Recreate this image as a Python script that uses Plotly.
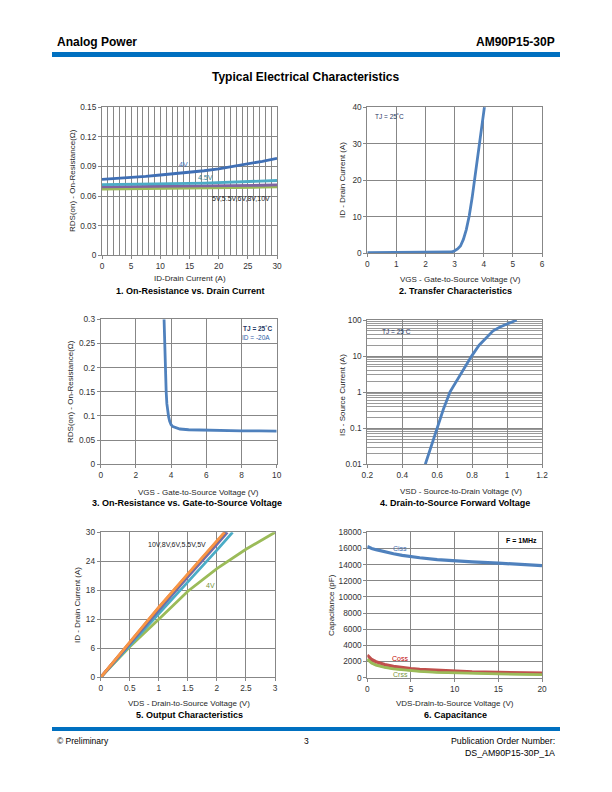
import plotly.graph_objects as go

# ---------------- DATA ----------------
# 1. On-Resistance vs Drain Current
id1 = [0, 2.5, 5, 7.5, 10, 12.5, 15, 17.5, 20, 22.5, 25, 27.5, 30]
rds1_4v = [0.0770, 0.0778, 0.0787, 0.0800, 0.0814, 0.0827, 0.0841, 0.0857, 0.0875, 0.0899, 0.0926, 0.0953, 0.0983]
rds1_45v = [0.0716, 0.0717, 0.0719, 0.0721, 0.0723, 0.0726, 0.0729, 0.0732, 0.0736, 0.0741, 0.0746, 0.0752, 0.0758]
rds1_5v = [0.0693, 0.0694, 0.0695, 0.0696, 0.0697, 0.0698, 0.0700, 0.0701, 0.0703, 0.0705, 0.0707, 0.0710, 0.0713]
rds1_mid = [0.0683, 0.0684, 0.0685, 0.0686, 0.0687, 0.0688, 0.0690, 0.0691, 0.0693, 0.0695, 0.0697, 0.0700, 0.0703]
rds1_10v = [0.0672, 0.0673, 0.0674, 0.0675, 0.0676, 0.0677, 0.0679, 0.0680, 0.0682, 0.0684, 0.0687, 0.0690, 0.0693]

# 2. Transfer Characteristics
vgs2 = [0, 0.5, 1, 1.5, 2, 2.5, 2.8, 2.9, 3.0, 3.1, 3.2, 3.3, 3.4, 3.5, 3.6, 3.7, 3.8, 3.9, 4.0, 4.03]
id2 = [0.2, 0.2, 0.2, 0.2, 0.2, 0.2, 0.25, 0.35, 0.7, 1.2, 2.0, 3.8, 6.5, 10.2, 15.2, 21.2, 26.8, 32.3, 39.0, 40.5]

# 3. On-Resistance vs Gate-to-Source Voltage
vgs3 = [3.6, 3.64, 3.68, 3.72, 3.76, 3.8, 3.86, 3.92, 4.0, 4.1, 4.25, 4.5, 5.0, 6.0, 7, 8, 9, 10]
rds3 = [0.30, 0.24, 0.195, 0.15, 0.125, 0.11, 0.098, 0.089, 0.082, 0.078, 0.0755, 0.073, 0.0715, 0.0703, 0.0697, 0.0693, 0.069, 0.0688]

# 4. Drain-to-Source Forward Voltage
vsd4 = [0.532, 0.565, 0.597, 0.635, 0.673, 0.735, 0.797, 0.84, 0.883, 0.92, 0.96, 1.0, 1.055]
is4 = [0.01, 0.03, 0.1, 0.33, 1.0, 3.3, 10, 20, 34, 50, 64, 78, 100]

# 5. Output Characteristics
vds5_4v = [0, 0.5, 1, 1.5, 2, 2.5, 3]
id5_4v = [0, 6.3, 12, 17.8, 22.5, 26.5, 30]
vds5_5v = [0, 0.5, 1, 1.5, 2, 2.27]
id5_5v = [0, 6.6, 13.1, 19.6, 26.3, 30]
vds5_55v = [0, 0.5, 1, 1.5, 2, 2.18]
id5_55v = [0, 7.0, 14.0, 20.8, 27.5, 30]
vds5_6v = [0, 0.5, 1, 1.5, 2, 2.16]
id5_6v = [0, 7.1, 14.2, 21.1, 27.9, 30]
vds5_8v = [0, 0.5, 1, 1.5, 2, 2.14]
id5_8v = [0, 7.2, 14.4, 21.3, 28.1, 30]
vds5_10v = [0, 0.5, 1, 1.5, 2, 2.13]
id5_10v = [0, 7.25, 14.5, 21.4, 28.2, 30]

# 6. Capacitance
vds6 = [0, 0.25, 0.5, 1, 1.5, 2, 3, 4, 5, 6, 8, 10, 12, 15, 18, 20]
ciss = [16250, 16100, 16000, 15850, 15700, 15580, 15350, 15150, 14980, 14850, 14620, 14450, 14330, 14180, 14000, 13870]
coss = [2800, 2450, 2250, 1980, 1780, 1630, 1420, 1250, 1120, 1030, 900, 800, 730, 660, 600, 570]
crss = [2300, 2000, 1820, 1580, 1420, 1300, 1130, 1000, 900, 820, 700, 620, 560, 500, 450, 420]

# ---------------- STYLE ----------------
FONT = "Liberation Sans, Arial, sans-serif"
BLUE = "#4F81BD"
RED = "#C0504D"
GREEN = "#9BBB59"
PURPLE = "#8064A2"
TEAL = "#4BACC6"
ORANGE = "#F79646"
GRID = "#878787"
LW = 2.8
W, H = 612, 792


def px(x):
    return x / W


def py(y):
    return 1 - y / H


fig = go.Figure()


def line(x, y, color, ax, width=LW):
    fig.add_trace(go.Scatter(x=x, y=y, mode="lines", line=dict(color=color, width=width),
                             xaxis="x" + ax, yaxis="y" + ax, showlegend=False, hoverinfo="skip"))


# plot 1
line(id1, rds1_mid, BLUE, "")
line(id1, rds1_mid, RED, "")
line(id1, rds1_mid, ORANGE, "")
line(id1, rds1_10v, GREEN, "")
line(id1, rds1_5v, PURPLE, "")
line(id1, rds1_45v, TEAL, "")
line(id1, rds1_4v, "#3F6FB5", "")
# plot 2
line(vgs2, id2, BLUE, "2")
# plot 3
line(vgs3, rds3, BLUE, "3")
# plot 4
line(vsd4, is4, BLUE, "4")
# plot 5
line(vds5_4v, id5_4v, GREEN, "5")
line(vds5_5v, id5_5v, TEAL, "5")
line(vds5_55v, id5_55v, PURPLE, "5")
line(vds5_6v, id5_6v, BLUE, "5")
line(vds5_8v, id5_8v, RED, "5")
line(vds5_10v, id5_10v, ORANGE, "5")
# plot 6
line(vds6, crss, GREEN, "6", 3.2)
line(vds6, coss, RED, "6", 3.2)
line(vds6, crss, GREEN, "6", 2.2)
line(vds6, ciss, BLUE, "6", 3.2)

tickfont = dict(family=FONT, size=8.3, color="#333333")


def axis(domain, anchor, rng, tickvals, ticktext=None, **kw):
    d = dict(domain=domain, anchor=anchor, range=rng, tickvals=tickvals,
             ticktext=ticktext if ticktext else [str(v) for v in tickvals],
             showgrid=True, gridcolor=GRID, gridwidth=1, showline=True, linecolor=GRID,
             linewidth=1, mirror=True, ticks="outside", ticklen=3, tickcolor=GRID,
             tickfont=tickfont, zeroline=False, fixedrange=True, automargin=False)
    d.update(kw)
    return d


XL = [px(102), px(277)]
XR = [px(367.3), px(542)]

layout = dict(width=W, height=H, margin=dict(l=0, r=0, t=0, b=0, pad=0), autosize=False,
              template="none", showlegend=False,
              paper_bgcolor="white", plot_bgcolor="white", font=dict(family=FONT))

# 1
layout["xaxis"] = axis(XL, "y", [0, 30], [0, 5, 10, 15, 20, 25, 30],
                       minor=dict(dtick=1, showgrid=True, gridcolor=GRID, gridwidth=1, ticks=""))
layout["yaxis"] = axis([py(255.3), py(107.3)], "x", [0, 0.15], [0, 0.03, 0.06, 0.09, 0.12, 0.15],
                       ["0", "0.03", "0.06", "0.09", "0.12", "0.15"])
# 2
layout["xaxis2"] = axis(XR, "y2", [0, 6], [0, 1, 2, 3, 4, 5, 6])
layout["yaxis2"] = axis([py(253.3), py(107.3)], "x2", [0, 40], [0, 10, 20, 30, 40])
# 3
layout["xaxis3"] = axis([px(100.7), px(276.7)], "y3", [0, 10], [0, 2, 4, 6, 8, 10])
layout["yaxis3"] = axis([py(464.3), py(319.3)], "x3", [0, 0.3], [0, 0.05, 0.1, 0.15, 0.2, 0.25, 0.3],
                        ["0", "0.05", "0.1", "0.15", "0.2", "0.25", "0.3"])
# 4
minor_log = []
for dec in [0.01, 0.1, 1, 10]:
    for k in range(2, 10):
        minor_log.append(dec * k)
layout["xaxis4"] = axis(XR, "y4", [0.2, 1.2], [0.2, 0.4, 0.6, 0.8, 1.0, 1.2],
                        ["0.2", "0.4", "0.6", "0.8", "1", "1.2"])
layout["yaxis4"] = axis([py(464.3), py(320)], "x4", [-2, 2], [0.01, 0.1, 1, 10, 100],
                        ["0.01", "0.1", "1", "10", "100"], type="log",
                        minor=dict(tickvals=minor_log, showgrid=True, gridcolor="#9a9a9a",
                                   gridwidth=0.8, ticks=""))
# 5
layout["xaxis5"] = axis([px(100.7), px(275)], "y5", [0, 3], [0, 0.5, 1, 1.5, 2, 2.5, 3],
                        ["0", "0.5", "1", "1.5", "2", "2.5", "3"])
layout["yaxis5"] = axis([py(677.3), py(532.3)], "x5", [0, 30], [0, 6, 12, 18, 24, 30])
# 6
layout["xaxis6"] = axis(XR, "y6", [0, 20], [0, 5, 10, 15, 20])
layout["yaxis6"] = axis([py(677.7), py(532.3)], "x6", [0, 18000], list(range(0, 18001, 2000)))

ann = []


def text(x, y, s, size=7.5, bold=False, color="#262626", angle=0, xanchor="center"):
    if bold:
        s = "<b>" + s + "</b>"
    ann.append(dict(x=px(x), y=py(y), xref="paper", yref="paper", text=s, showarrow=False,
                    font=dict(family=FONT, size=size, color=color), textangle=angle,
                    xanchor=xanchor, yanchor="middle"))


def dtext(ax, x, y, s, size=6.5, bold=False, color="#262626", xanchor="center"):
    if bold:
        s = "<b>" + s + "</b>"
    ann.append(dict(x=x, y=y, xref="x" + ax, yref="y" + ax, text=s, showarrow=False,
                    font=dict(family=FONT, size=size, color=color), xanchor=xanchor, yanchor="middle"))


# header / footer
text(55, 42, "Analog Power", 12, True, "#000000", xanchor="left")
text(557, 42, "AM90P15-30P", 12, True, "#000000", xanchor="right")
text(306, 77, "Typical Electrical Characteristics", 12, True, "#000000")
text(55, 741, "© Preliminary", 8.5, False, "#000000", xanchor="left")
text(306, 741, "3", 8.5, False, "#000000")
text(557, 741, "Publication Order Number:", 8.8, False, "#000000", xanchor="right")
text(557, 753, "DS_AM90P15-30P_1A", 8.8, False, "#000000", xanchor="right")

# axis titles
AT = 8
text(190, 278, "ID-Drain Current (A)", AT)
text(72, 181, "RDS(on) - On-Resistance(Ω)", AT, angle=-90)
text(460, 279, "VGS - Gate-to-Source Voltage (V)", AT)
text(342, 180, "ID - Drain Current (A)", AT, angle=-90)
text(198, 492, "VGS - Gate-to-Source Voltage (V)", AT)
text(70, 392, "RDS(on) - On-Resistance(Ω)", AT, angle=-90)
text(461, 491, "VSD - Source-to-Drain Voltage (V)", AT)
text(342, 395, "IS - Source Current (A)", AT, angle=-90)
text(189, 703, "VDS - Drain-to-Source Voltage (V)", AT)
text(77, 605, "ID - Drain Current (A)", AT, angle=-90)
text(455, 703, "VDS-Drain-to-Source Voltage (V)", AT)
text(331, 605, "Capacitance (pF)", AT, angle=-90)

# captions
CT = 9
text(190, 291, "1. On-Resistance vs. Drain Current", CT, True, "#000000")
text(455, 291, "2. Transfer Characteristics", CT, True, "#000000")
text(187, 503, "3. On-Resistance vs. Gate-to-Source Voltage", CT, True, "#000000")
text(455, 503, "4. Drain-to-Source Forward Voltage", CT, True, "#000000")
text(189, 715, "5. Output Characteristics", CT, True, "#000000")
text(455, 715, "6. Capacitance", CT, True, "#000000")

# in-plot labels
dtext("", 13.9, 0.0925, "4V", 7, color="#3F6FB5")
dtext("", 17.7, 0.0787, "4.5V", 7, color="#31849B")
dtext("", 23.8, 0.0575, "5V,5.5V,6V,8V,10V", 7, color="#1a1a1a")
text(389, 117, "TJ = 25˚C", 6.5, color="#1F3864")
text(257, 328, "TJ = 25˚C", 6.5, True, "#1F3864")
text(256, 338, "ID = -20A", 6.5, False, "#2E5EA8")
text(396, 332, "TJ = 25 C", 6.5, color="#1F3864")
dtext("5", 1.32, 27.4, "10V,8V,6V,5.5V,5V", 7, color="#1a1a1a")
dtext("5", 1.89, 19.0, "4V", 7, color="#77933C")
dtext("6", 3.8, 16050, "Ciss", 7, color="#3F6FB5")
dtext("6", 3.75, 2350, "Coss", 7, color="#C00000")
dtext("6", 3.8, 420, "Crss", 7, color="#77933C")
text(521.7, 540.7, "F = 1MHz", 7, True, "#000000")

layout["annotations"] = ann
layout["shapes"] = [
    dict(type="rect", xref="paper", yref="paper", x0=px(52), x1=px(560), y0=py(57), y1=py(52),
         fillcolor="#0070C0", line=dict(width=0)),
    dict(type="rect", xref="paper", yref="paper", x0=px(52), x1=px(560), y0=py(731), y1=py(727),
         fillcolor="#0070C0", line=dict(width=0)),
]

fig.update_layout(**layout)
fig.write_html("out.html", config={"displayModeBar": False},
               post_script="document.body.style.margin='0';document.body.style.padding='0';")
